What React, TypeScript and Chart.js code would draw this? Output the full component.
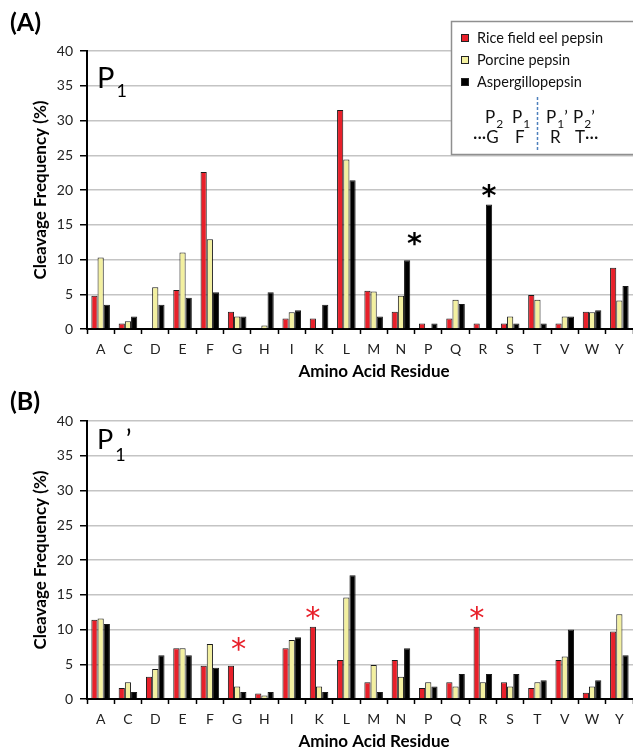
import React, { useEffect, useRef } from 'react';
import { Chart, registerables } from 'chart.js';

Chart.register(...registerables);

const categories = ['A', 'C', 'D', 'E', 'F', 'G', 'H', 'I', 'K', 'L', 'M', 'N', 'P', 'Q', 'R', 'S', 'T', 'V', 'W', 'Y'];
const seriesNames = ['Rice field eel pepsin', 'Porcine pepsin', 'Aspergillopepsin'];
const seriesColors = ['#e8202a', '#f3f0a0', '#000000'];

// Panel A: P1
const p1Rice = [4.8, 0.8, 0, 5.6, 22.6, 2.5, 0, 1.5, 1.5, 31.5, 5.5, 2.5, 0.8, 1.5, 0.8, 0.8, 4.9, 0.8, 2.5, 8.8];
const p1Porcine = [10.3, 1.1, 6.0, 11.0, 12.9, 1.8, 0.5, 2.4, 0, 24.4, 5.4, 4.8, 0, 4.2, 0, 1.8, 4.2, 1.8, 2.4, 4.1];
const p1Asperg = [3.5, 1.8, 3.5, 4.5, 5.3, 1.8, 5.3, 2.7, 3.5, 21.4, 1.8, 9.9, 0.8, 3.6, 17.9, 0.8, 0.8, 1.8, 2.7, 6.2];

// Panel B: P1'
const p1pRice = [11.4, 1.6, 3.2, 7.3, 4.8, 4.8, 0.8, 7.3, 10.4, 5.6, 2.4, 5.6, 1.6, 2.4, 10.4, 2.4, 1.6, 5.6, 0.9, 9.7];
const p1pPorcine = [11.6, 2.4, 4.3, 7.3, 7.9, 1.8, 0.5, 8.5, 1.8, 14.6, 4.9, 3.2, 2.4, 1.8, 2.4, 1.8, 2.4, 6.1, 1.8, 12.2];
const p1pAsperg = [10.8, 1.0, 6.3, 6.3, 4.5, 1.0, 1.0, 8.9, 1.0, 17.8, 1.0, 7.3, 1.8, 3.6, 3.6, 3.6, 2.7, 10.0, 2.7, 6.3];

// significance stars: [datasetIndex, categoryIndex]
const p1Stars = [[2, 11], [2, 14]];
const p1pStars = [[0, 5], [0, 8], [0, 14]];

const yMin = 0;
const yMax = 40;
const yStep = 5;
const yTitle = 'Cleavage Frequency (%)';
const xTitle = 'Amino Acid Residue';

const FONT = 'Lato, "Open Sans", "DejaVu Sans", sans-serif';
const W = 633;
const H = 383;

function drawStar(ctx: CanvasRenderingContext2D, x: number, cy: number, color: string, weight: string, targetW: number) {
  ctx.font = `${weight} 100px "DejaVu Sans"`;
  const m = ctx.measureText('*');
  const w = m.actualBoundingBoxRight + m.actualBoundingBoxLeft;
  const size = (100 * targetW) / w;
  ctx.font = `${weight} ${size}px "DejaVu Sans"`;
  const m2 = ctx.measureText('*');
  ctx.textAlign = 'left';
  ctx.textBaseline = 'alphabetic';
  const gx = x - (m2.actualBoundingBoxRight - m2.actualBoundingBoxLeft) / 2;
  const by = cy + (m2.actualBoundingBoxAscent - m2.actualBoundingBoxDescent) / 2;
  ctx.fillStyle = color;
  ctx.fillText('*', gx, by);
}

function drawSubLabel(
  ctx: CanvasRenderingContext2D,
  x: number,
  base: number,
  main: string,
  sub: string,
  prime: boolean,
  mainSize: number,
  subSize: number,
  subDrop: number,
  subGap: number
) {
  ctx.textAlign = 'left';
  ctx.textBaseline = 'alphabetic';
  ctx.font = `${mainSize}px ${FONT}`;
  ctx.fillText(main, x, base);
  let cx = x + ctx.measureText(main).width + subGap;
  ctx.font = `${subSize}px ${FONT}`;
  ctx.fillText(sub, cx, base + subDrop);
  cx += ctx.measureText(sub).width;
  if (prime) {
    ctx.font = `${mainSize}px ${FONT}`;
    ctx.fillText('\u2019', cx, base);
  }
}

const decorPlugin = {
  id: 'decor',
  afterDraw(chart: any, _args: any, opts: any) {
    const ctx: CanvasRenderingContext2D = chart.ctx;
    ctx.save();
    // panel letter
    ctx.fillStyle = '#000';
    ctx.textAlign = 'left';
    ctx.textBaseline = 'alphabetic';
    ctx.font = `bold 25px ${FONT}`;
    ctx.fillText(opts.panel, 10, opts.panelBase);

    // position label (P1 / P1')
    ctx.fillStyle = '#000';
    drawSubLabel(ctx, 97, opts.pBase, 'P', '1', opts.prime, opts.pSize, 18, opts.subDrop, 2);

    // x axis title
    ctx.font = `bold 17px ${FONT}`;
    ctx.textAlign = 'center';
    ctx.textBaseline = 'middle';
    ctx.fillStyle = '#000';
    ctx.fillText(xTitle, 374, 372);

    // stars
    (opts.stars || []).forEach((s: number[]) => {
      const el = chart.getDatasetMeta(s[0]).data[s[1]];
      if (!el) return;
      const color = s[0] === 2 ? '#000' : '#e8202a';
      const weight = s[0] === 2 ? 'bold' : 'normal';
      drawStar(ctx, el.x, el.y - 14, color, weight, 14);
    });

    // legend
    if (opts.legend) {
      const bx = 451.5, by = 21.5, bw = W - 451 + 4, bh = 133;
      ctx.fillStyle = '#fff';
      ctx.fillRect(bx, by, bw, bh);
      ctx.strokeStyle = '#8f8f8f';
      ctx.lineWidth = 1.5;
      ctx.strokeRect(bx, by, bw, bh);
      const ys = [38, 60, 82];
      chart.data.datasets.forEach((ds: any, i: number) => {
        const yc = ys[i];
        ctx.fillStyle = ds.backgroundColor;
        ctx.fillRect(461, yc - 3.5, 7, 7);
        ctx.strokeStyle = '#222';
        ctx.lineWidth = 1;
        ctx.strokeRect(461.5, yc - 3.5, 7, 7);
        ctx.fillStyle = '#111';
        ctx.font = `14.5px ${FONT}`;
        ctx.textAlign = 'left';
        ctx.textBaseline = 'middle';
        ctx.fillText(ds.label, 477, yc);
      });
      ctx.fillStyle = '#111';
      drawSubLabel(ctx, 485, 122.5, 'P', '2', false, 17, 12, 5, 1);
      drawSubLabel(ctx, 512, 122.5, 'P', '1', false, 17, 12, 5, 1);
      drawSubLabel(ctx, 546, 122.5, 'P', '1', true, 17, 12, 5, 1);
      drawSubLabel(ctx, 573, 122.5, 'P', '2', true, 17, 12, 5, 1);
      ctx.font = `17px ${FONT}`;
      ctx.textAlign = 'left';
      ctx.textBaseline = 'alphabetic';
      ctx.fillText('\u00B7\u00B7\u00B7G', 473, 142.5);
      ctx.fillText('F', 515, 142.5);
      ctx.fillText('R', 550, 142.5);
      ctx.fillText('T\u00B7\u00B7\u00B7', 575, 142.5);
      ctx.strokeStyle = '#4f81bd';
      ctx.lineWidth = 1.5;
      ctx.setLineDash([3, 2]);
      ctx.beginPath();
      ctx.moveTo(537.5, 97);
      ctx.lineTo(537.5, 152);
      ctx.stroke();
      ctx.setLineDash([]);
    }
    ctx.restore();
  },
};

function makeConfig(values: number[][], decor: any): any {
  return {
    type: 'bar',
    data: {
      labels: categories,
      datasets: values.map((v, i) => ({
        label: seriesNames[i],
        data: v,
        backgroundColor: seriesColors[i],
        borderColor: '#1a1a1a',
        borderWidth: 1,
        categoryPercentage: 0.68,
        barPercentage: 1.0,
      })),
    },
    options: {
      responsive: false,
      animation: false,
      devicePixelRatio: 1,
      layout: { padding: { top: 51, left: 0, right: 0, bottom: 0 } },
      plugins: {
        legend: { display: false },
        tooltip: { enabled: false },
        decor,
      },
      scales: {
        x: {
          grid: {
            display: true,
            drawOnChartArea: false,
            drawTicks: true,
            tickLength: 5,
            tickColor: '#000',
            tickWidth: 1.5,
            offset: true,
          },
          border: { display: true, color: '#000', width: 2 },
          ticks: {
            font: { family: FONT, size: 14 },
            color: '#222',
            padding: 7,
            maxRotation: 0,
            autoSkip: false,
          },
          afterFit: (s: any) => {
            s.height = 54;
          },
        },
        y: {
          min: yMin,
          max: yMax,
          ticks: {
            stepSize: yStep,
            font: { family: FONT, size: 14 },
            color: '#222',
            padding: 7,
          },
          grid: {
            color: '#c4c4c4',
            lineWidth: 1.5,
            tickColor: '#000',
            tickLength: 7,
            tickWidth: 1.5,
          },
          border: { display: true, color: '#000', width: 2 },
          title: {
            display: true,
            text: yTitle,
            font: { family: FONT, size: 17, weight: 'bold' },
            color: '#000',
            padding: { top: 30, bottom: 0 },
          },
          afterFit: (s: any) => {
            s.width = 87;
          },
        },
      },
    },
    plugins: [decorPlugin],
  };
}

function Panel({ top, values, decor }: { top: number; values: number[][]; decor: any }) {
  const ref = useRef<HTMLCanvasElement | null>(null);
  useEffect(() => {
    if (!ref.current) return;
    const chart = new Chart(ref.current, makeConfig(values, decor));
    return () => chart.destroy();
  }, []);
  return (
    <canvas
      ref={ref}
      width={W}
      height={H}
      style={{ position: 'absolute', left: 0, top, width: W, height: H, display: 'block' }}
    />
  );
}

export default function App() {
  return (
    <div style={{ position: 'absolute', left: 0, top: 0, width: W, height: 753, background: '#fff', overflow: 'hidden' }}>
      <Panel
        top={0}
        values={[p1Rice, p1Porcine, p1Asperg]}
        decor={{ panel: '(A)', panelBase: 31, pBase: 88, pSize: 29, subDrop: 9, prime: false, stars: p1Stars, legend: true }}
      />
      <Panel
        top={370}
        values={[p1pRice, p1pPorcine, p1pAsperg]}
        decor={{ panel: '(B)', panelBase: 39.5, pBase: 78.5, pSize: 27, subDrop: 12, prime: true, stars: p1pStars, legend: false }}
      />
    </div>
  );
}
